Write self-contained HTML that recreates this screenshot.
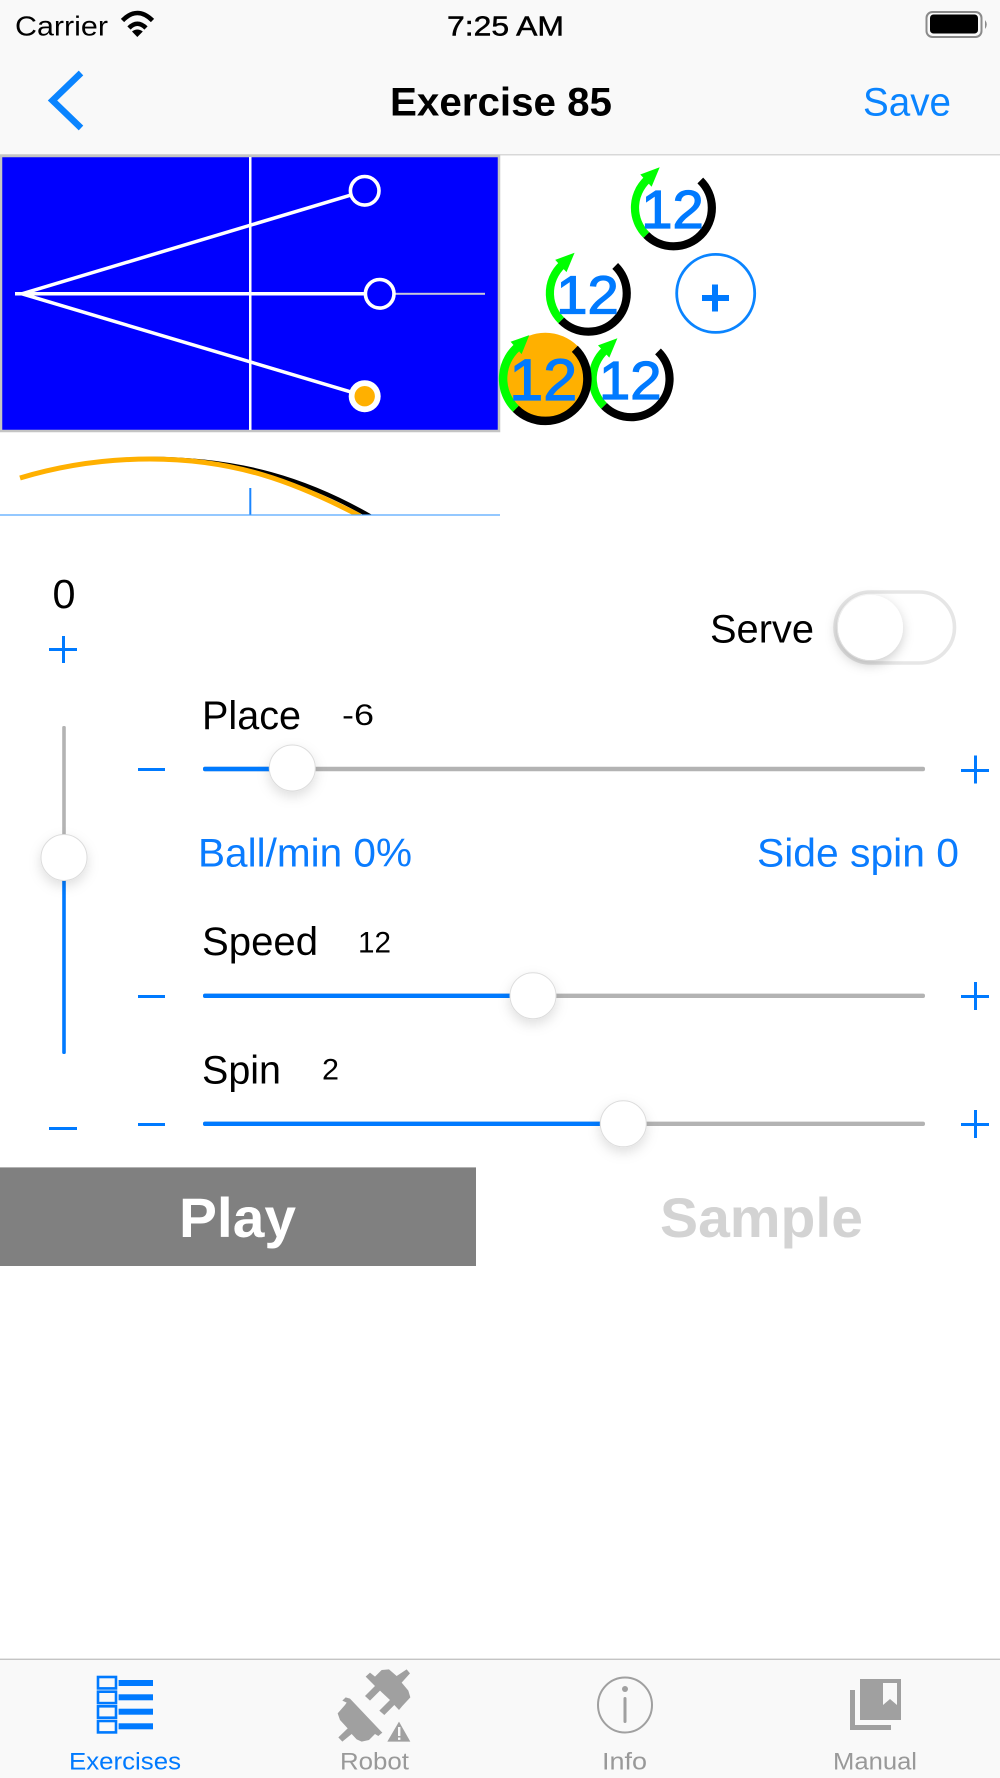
<!DOCTYPE html>
<html lang="en">
<head>
<meta charset="utf-8">
<title>Exercise 85</title>
<style>
html,body{margin:0;padding:0;background:#fff;width:1000px;height:1778px;overflow:hidden}
svg{display:block}
text{font-family:"Liberation Sans",sans-serif}
</style>
</head>
<body>
<svg width="1000" height="1778" viewBox="0 0 1000 1778" xmlns="http://www.w3.org/2000/svg">
<defs>
<filter id="th" x="-50%" y="-50%" width="200%" height="220%"><feDropShadow dx="0" dy="5" stdDeviation="6" flood-color="#000" flood-opacity="0.13"/></filter>
<filter id="kn" x="-50%" y="-50%" width="200%" height="200%"><feDropShadow dx="-1" dy="4" stdDeviation="6" flood-color="#000" flood-opacity="0.22"/></filter>
<clipPath id="trajclip"><rect x="0" y="440" width="500" height="75"/></clipPath>
</defs>
<rect width="1000" height="1778" fill="#fff"/>

<!-- status + nav bar -->
<rect width="1000" height="154" fill="#f9f9f9"/>
<rect y="154" width="1000" height="1.5" fill="#d8d8d8"/>
<text x="15" y="35.5" font-size="28" textLength="93" lengthAdjust="spacingAndGlyphs" fill="#000">Carrier</text>
<g fill="none" stroke="#000" stroke-width="4.6">
<path d="M122.5 20.5 Q137.3 5.5 152.5 20.5"/>
<path d="M129 28 Q137.3 19.5 146 28"/>
</g>
<path d="M132 31.5 Q137.3 27.5 142.8 31.5 L137.3 37 Z" fill="#000"/>
<text x="447" y="35.5" font-size="28" textLength="117" lengthAdjust="spacingAndGlyphs" fill="#000" stroke="#000" stroke-width="0.5">7:25 AM</text>
<rect x="926.5" y="12" width="55" height="25" rx="6" fill="none" stroke="#8a8a8a" stroke-width="2"/>
<rect x="930" y="14.5" width="48" height="19" rx="3.5" fill="#000"/>
<path d="M985 20 Q988.5 24.5 985 29 Z" fill="#8a8a8a"/>

<polyline points="81,73 52.5,100.5 81,128" fill="none" stroke="#0a84ff" stroke-width="6.5"/>
<text x="390" y="115.6" font-size="39.5" font-weight="bold" textLength="222" lengthAdjust="spacingAndGlyphs" fill="#000">Exercise 85</text>
<text x="863" y="115.6" font-size="39.5" textLength="88" lengthAdjust="spacingAndGlyphs" fill="#0a84ff">Save</text>

<!-- table -->
<rect x="1" y="156" width="498" height="275" fill="#0000ff" stroke="#c4c4c4" stroke-width="2.5"/>
<rect x="249" y="157" width="2.5" height="273" fill="#fff"/>
<rect x="395" y="292.8" width="90" height="2" fill="#c8c8d8"/>
<g stroke="#fff" stroke-width="3.5" fill="none">
<line x1="15" y1="293.8" x2="365" y2="293.8"/>
<line x1="22" y1="293.8" x2="365" y2="190.8"/>
<line x1="22" y1="293.8" x2="365" y2="396.2"/>
</g>
<circle cx="364.7" cy="190.8" r="14.3" fill="#0000ff" stroke="#fff" stroke-width="3.6"/>
<circle cx="379.7" cy="293.8" r="14.3" fill="#0000ff" stroke="#fff" stroke-width="3.6"/>
<circle cx="364.7" cy="396.2" r="16" fill="#fff"/>
<circle cx="364.7" cy="396.2" r="10.2" fill="#ffb000"/>

<!-- trajectory -->
<g clip-path="url(#trajclip)" fill="none">
<path d="M150 459 C240 459 308 480 373 518" stroke="#000" stroke-width="4.5"/>
<path d="M20 478 C70 463 115 459 150 459 C235 459 295 482 360 516" stroke="#ffb000" stroke-width="5"/>
</g>
<rect x="249.3" y="488" width="2" height="27" fill="#1a85ff"/>
<rect x="0" y="514.4" width="500" height="1.2" fill="#4da3ff"/>

<!-- balls -->
<g transform="translate(673.3,208)">
<g fill="none" stroke-width="8.2">
<path d="M27,-27.5 A38.5,38.5 0 0 1 27.5,27 A38.5,38.5 0 0 1 -27,27" stroke="#000"/>
<path d="M-27,27 A38.5,38.5 0 0 1 -23,-31" stroke="#00ff00"/>
</g>
<polygon points="-13.6,-40.7 -33,-33.5 -21.7,-21.3" fill="#00ff00"/>
<text x="-32" y="20" font-size="54" textLength="62.5" lengthAdjust="spacingAndGlyphs" fill="#007aff" stroke="#007aff" stroke-width="1.2">12</text>
</g>
<g transform="translate(588.2,293.4)">
<g fill="none" stroke-width="8.2">
<path d="M27,-27.5 A38.5,38.5 0 0 1 27.5,27 A38.5,38.5 0 0 1 -27,27" stroke="#000"/>
<path d="M-27,27 A38.5,38.5 0 0 1 -23,-31" stroke="#00ff00"/>
</g>
<polygon points="-13.6,-40.7 -33,-33.5 -21.7,-21.3" fill="#00ff00"/>
<text x="-32" y="20" font-size="54" textLength="62.5" lengthAdjust="spacingAndGlyphs" fill="#007aff" stroke="#007aff" stroke-width="1.2">12</text>
</g>
<g transform="translate(631,378.9)">
<g fill="none" stroke-width="8.2">
<path d="M27,-27.5 A38.5,38.5 0 0 1 27.5,27 A38.5,38.5 0 0 1 -27,27" stroke="#000"/>
<path d="M-27,27 A38.5,38.5 0 0 1 -23,-31" stroke="#00ff00"/>
</g>
<polygon points="-13.6,-40.7 -33,-33.5 -21.7,-21.3" fill="#00ff00"/>
<text x="-32" y="20" font-size="54" textLength="62.5" lengthAdjust="spacingAndGlyphs" fill="#007aff" stroke="#007aff" stroke-width="1.2">12</text>
</g>
<g transform="translate(545.3,378.8)">
<circle r="46" fill="#ffb000"/>
<g fill="none" stroke-width="8.5">
<path d="M29.5,-30 A42,42 0 0 1 30,29.5 A42,42 0 0 1 -29.5,30" stroke="#000"/>
<path d="M-29.5,30 A42,42 0 0 1 -25,-34" stroke="#00ff00"/>
</g>
<polygon points="-16,-43.7 -34.7,-37 -23.7,-24.7" fill="#00ff00"/>
<text x="-36" y="21" font-size="58" textLength="68" lengthAdjust="spacingAndGlyphs" fill="#007aff" stroke="#007aff" stroke-width="1.2">12</text>
</g>
<circle cx="715.7" cy="293.4" r="39" fill="none" stroke="#0a84ff" stroke-width="2.8"/>
<rect x="702" y="295" width="27" height="6" fill="#007aff"/>
<rect x="712" y="284.5" width="6" height="27" fill="#007aff"/>

<!-- vertical control -->
<text x="52.5" y="608" font-size="41" textLength="23" lengthAdjust="spacingAndGlyphs" fill="#000">0</text>
<rect x="49" y="648" width="28" height="3" fill="#007aff"/>
<rect x="62" y="636" width="3" height="27" fill="#007aff"/>
<rect x="49" y="1127" width="28" height="3" fill="#007aff"/>
<rect x="62.2" y="726" width="3.6" height="132" rx="1.5" fill="#b3b3b3"/>
<rect x="62.2" y="858" width="3.6" height="196" rx="1.5" fill="#007aff"/>
<circle cx="64" cy="857.5" r="23" fill="#fff" stroke="#dcdcdc" stroke-width="1" filter="url(#th)"/>

<!-- serve -->
<text x="710" y="642.6" font-size="39.5" textLength="104" lengthAdjust="spacingAndGlyphs" fill="#000">Serve</text>
<rect x="835" y="592" width="119.5" height="71" rx="35.5" fill="#fff" stroke="#e6e6e6" stroke-width="3.6"/>
<circle cx="870.5" cy="627.5" r="32.5" fill="#fff" filter="url(#kn)"/>

<!-- place -->
<text x="202" y="729" font-size="39.5" textLength="99" lengthAdjust="spacingAndGlyphs" fill="#000">Place</text>
<text x="342" y="725" font-size="30" textLength="32" lengthAdjust="spacingAndGlyphs" fill="#000">-6</text>
<rect x="138" y="768" width="27" height="3" fill="#007aff"/>
<rect x="961" y="769" width="28" height="3" fill="#007aff"/>
<rect x="974" y="755.5" width="3" height="28" fill="#007aff"/>
<rect x="203" y="766.8" width="722" height="4.4" rx="2" fill="#b3b3b3"/>
<rect x="203" y="766.8" width="90" height="4.4" rx="2" fill="#007aff"/>
<circle cx="292.3" cy="768" r="23" fill="#fff" stroke="#dcdcdc" stroke-width="1" filter="url(#th)"/>

<!-- links -->
<text x="198" y="866.7" font-size="39.5" textLength="214" lengthAdjust="spacingAndGlyphs" fill="#0a7cff">Ball/min 0%</text>
<text x="757" y="866.7" font-size="39.5" textLength="202" lengthAdjust="spacingAndGlyphs" fill="#0a7cff">Side spin 0</text>

<!-- speed -->
<text x="202" y="955" font-size="39.5" textLength="116" lengthAdjust="spacingAndGlyphs" fill="#000">Speed</text>
<text x="358" y="952.6" font-size="30" textLength="33" lengthAdjust="spacingAndGlyphs" fill="#000">12</text>
<rect x="138" y="995" width="27" height="3" fill="#007aff"/>
<rect x="961" y="995" width="28" height="3" fill="#007aff"/>
<rect x="974" y="982" width="3" height="28" fill="#007aff"/>
<rect x="203" y="993.6" width="722" height="4.4" rx="2" fill="#b3b3b3"/>
<rect x="203" y="993.6" width="330" height="4.4" rx="2" fill="#007aff"/>
<circle cx="533" cy="995.7" r="23" fill="#fff" stroke="#dcdcdc" stroke-width="1" filter="url(#th)"/>

<!-- spin -->
<text x="202" y="1083.4" font-size="39.5" textLength="79" lengthAdjust="spacingAndGlyphs" fill="#000">Spin</text>
<text x="322" y="1079.7" font-size="30" textLength="17" lengthAdjust="spacingAndGlyphs" fill="#000">2</text>
<rect x="138" y="1123" width="27" height="3" fill="#007aff"/>
<rect x="961" y="1123" width="28" height="3" fill="#007aff"/>
<rect x="974" y="1110" width="3" height="28" fill="#007aff"/>
<rect x="203" y="1121.6" width="722" height="4.4" rx="2" fill="#b3b3b3"/>
<rect x="203" y="1121.6" width="420" height="4.4" rx="2" fill="#007aff"/>
<circle cx="623.3" cy="1123.8" r="23" fill="#fff" stroke="#dcdcdc" stroke-width="1" filter="url(#th)"/>

<!-- buttons -->
<rect x="0" y="1167.4" width="476" height="98.6" fill="#808080"/>
<text x="179" y="1237" font-size="56" font-weight="bold" textLength="117" lengthAdjust="spacingAndGlyphs" fill="#fff">Play</text>
<text x="660" y="1237" font-size="56" font-weight="bold" textLength="203" lengthAdjust="spacingAndGlyphs" fill="#d3d3d3">Sample</text>

<!-- tab bar -->
<rect x="0" y="1659" width="1000" height="119" fill="#f9f9f9"/>
<rect x="0" y="1658.6" width="1000" height="1.4" fill="#c4c4c4"/>

<g fill="none" stroke="#007aff" stroke-width="2.6">
<rect x="98" y="1677" width="18" height="11.4"/>
<rect x="98" y="1691.7" width="18" height="11.4"/>
<rect x="98" y="1706.3" width="18" height="11.4"/>
<rect x="98" y="1721" width="18" height="11.4"/>
</g>
<g fill="#007aff">
<rect x="118.6" y="1680" width="34.4" height="6"/>
<rect x="118.6" y="1694.3" width="34.4" height="6"/>
<rect x="118.6" y="1708.7" width="34.4" height="6"/>
<rect x="118.6" y="1723.3" width="34.4" height="6"/>
</g>
<text x="69" y="1769.3" font-size="24" textLength="112" lengthAdjust="spacingAndGlyphs" fill="#007aff">Exercises</text>

<g transform="translate(325,1660) scale(0.3333)" fill="#a0a0a0" stroke="none">
<path d="M122,50 L135,38 L150,50 L170,30 L192,28 L215,48 L245,28 L255,40 L230,68 L250,92 L256,112 L232,138 L222,150 L208,135 L178,165 L163,152 L195,120 L165,92 L135,122 L120,108 L150,78 Z"/>
<path d="M62,112 L75,116 L172,218 L160,228 L150,222 L132,240 L110,245 L95,238 L80,222 L52,245 L40,232 L68,205 L45,180 L38,160 L60,135 L65,128 L52,122 Z"/>
<path d="M222,185 L256,245 L187,245 Z"/>
</g>
<rect x="398" y="1727" width="2.4" height="9" fill="#f9f9f9"/>
<rect x="398" y="1737.5" width="2.4" height="2.4" fill="#f9f9f9"/>
<text x="340" y="1769.3" font-size="24" textLength="69" lengthAdjust="spacingAndGlyphs" fill="#999">Robot</text>

<ellipse cx="625" cy="1705" rx="27" ry="27.5" fill="none" stroke="#a0a0a0" stroke-width="2"/>
<circle cx="625" cy="1689" r="3" fill="#a0a0a0"/>
<rect x="623.5" y="1697" width="3" height="26" rx="1.5" fill="#a0a0a0"/>
<text x="602" y="1769.3" font-size="24" textLength="45" lengthAdjust="spacingAndGlyphs" fill="#999">Info</text>

<path d="M850 1690 H855 V1725 H891 V1730 H850 Z" fill="#a0a0a0"/>
<rect x="860" y="1679" width="41" height="41" fill="#a0a0a0"/>
<path d="M883 1683 H897 V1705 L890 1699 L883 1705 Z" fill="#f9f9f9"/>
<text x="833" y="1769.3" font-size="24" textLength="84" lengthAdjust="spacingAndGlyphs" fill="#999">Manual</text>
</svg>
</body>
</html>
